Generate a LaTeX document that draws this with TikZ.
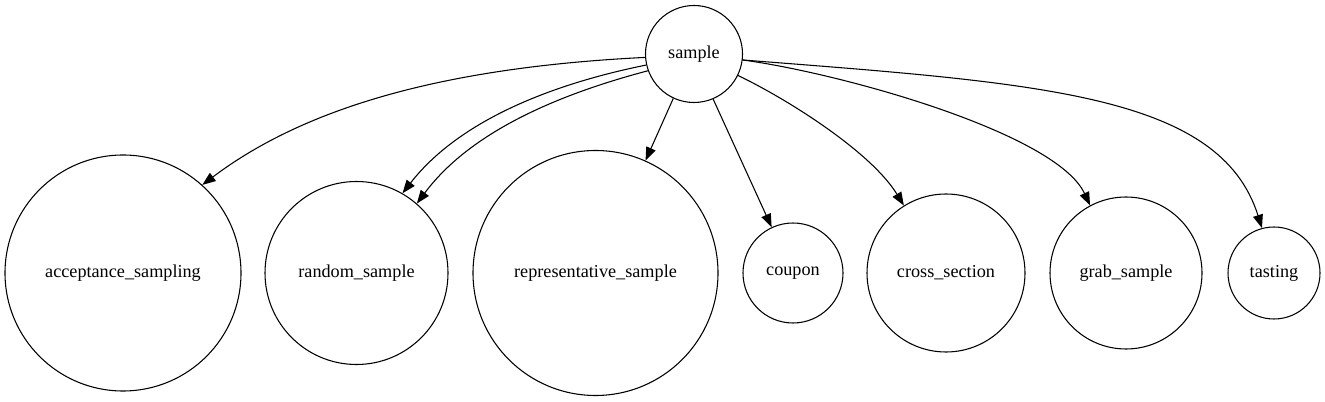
\documentclass[tikz,border=0pt]{standalone}
\usepackage{fontspec}
\setmainfont{Liberation Serif}
\usetikzlibrary{arrows.meta}
\begin{document}
\begin{tikzpicture}[x=0.75pt,y=-0.75pt,
  nd/.style={circle,draw,line width=0.8pt,inner sep=0pt,font=\fontsize{13.65}{16}\selectfont},
  edge/.style={line width=0.8pt,-{Triangle[length=10pt,width=7.5pt]}}]
\useasboundingbox (0,0) rectangle (1325,402);
\node[nd,minimum size=72.75pt]  (s)   at (694,54)    {sample};
\node[nd,minimum size=177pt]    (acc) at (123,273)   {acceptance\_sampling};
\node[nd,minimum size=137.25pt] (rnd) at (356.5,273) {random\_sample};
\node[nd,minimum size=183.75pt] (rep) at (595.5,273) {representative\_sample};
\node[nd,minimum size=75pt]     (cou) at (793,273)   {coupon};
\node[nd,minimum size=118.5pt]  (crs) at (946,273)   {cross\_section};
\node[nd,minimum size=114pt]    (grb) at (1126,273)  {grab\_sample};
\node[nd,minimum size=69pt]     (tst) at (1274,273)  {tasting};
\draw[edge] (s.184) .. controls (445,67.3) and (305.7,107) .. (acc.48);
\draw[edge] (s.193) .. controls (547.5,85) and (457.7,122.3) .. (rnd.60);
\draw[edge] (s.200.5) .. controls (549.7,96.7) and (467.7,135.3) .. (rnd.49);
\draw[edge] (s.245) -- (rep.66);
\draw[edge] (s.293.5) -- (cou.115);
\draw[edge] (s.334) .. controls (791.7,101.4) and (872.1,153.4) .. (crs.122.5);
\draw[edge] (s.353.8) .. controls (841.7,73.3) and (1056.5,133.2) .. (grb.118.7);
\draw[edge] (s.353.8) .. controls (1041.5,83.3) and (1219.7,94.3) .. (tst.105);
\end{tikzpicture}
\end{document}
